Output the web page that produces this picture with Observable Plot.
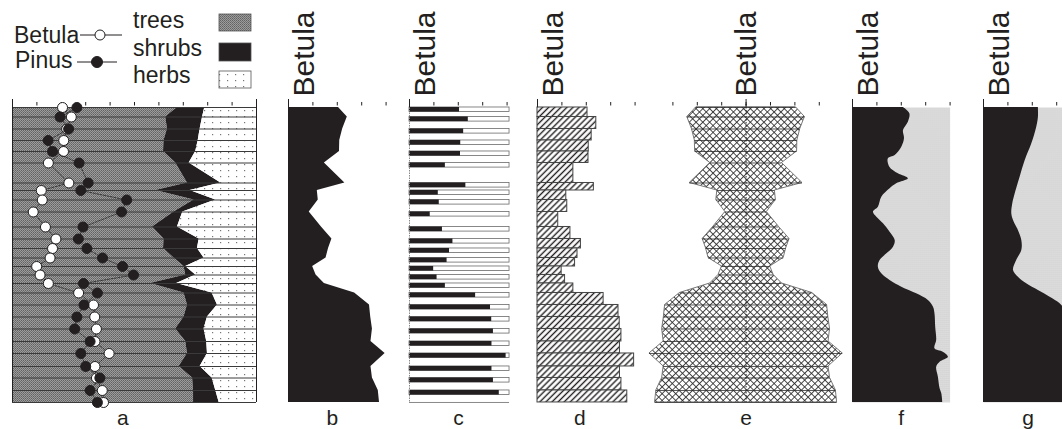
<!DOCTYPE html>
<html><head><meta charset="utf-8">
<script src="https://cdn.jsdelivr.net/npm/d3@7"></script>
<script src="https://cdn.jsdelivr.net/npm/@observablehq/plot@0.6"></script>
<style>
html,body{margin:0;padding:0;background:#fff;}
#chart{position:relative;width:1062px;height:429px;overflow:hidden;background:#fff;}
#chart svg{position:absolute;top:0;}
</style></head><body><div id="chart"></div>
<script>
// ---- data (sample depth in cm from top of core, pollen percentages) ----
const depth  = [0, 9.5, 21.5, 33, 44, 55.5, 75.5, 83, 92.5, 104.5, 119.5, 131.5, 141, 150.5, 159, 167.5, 176, 185.5, 197.5, 209.5, 221.5, 234, 246, 259, 270.5, 283, 295];
const betula = [20.5, 24.1, 22.2, 21.0, 20.9, 14.7, 23.1, 11.8, 12.2, 8.5, 13.5, 17.8, 16.4, 15.4, 9.9, 11.3, 14.7, 27.1, 33.2, 33.7, 34.4, 33.8, 39.6, 33.8, 34.4, 36.8, 37.3];
const pinus  = [26.4, 19.5, 23.0, 14.6, 16.4, 27.3, 31.0, 28.0, 46.8, 44.7, 28.9, 27.0, 30.5, 36.9, 45.1, 49.6, 29.1, 34.8, 29.3, 26.4, 25.5, 31.8, 28.0, 30.0, 35.8, 31.8, 34.8];
const trees  = [67.6, 62.8, 63.5, 62.1, 61.9, 66.9, 71.7, 58.7, 74.4, 66.2, 57.4, 62.1, 61.9, 66.2, 70.3, 71.0, 56.5, 70.3, 71.7, 70.3, 66.9, 71.0, 71.7, 68.3, 73.8, 74.2, 74.2];
const shrubs = [11.2, 15.1, 13.4, 14.0, 13.2, 5.5, 13.7, 14.1, 8.9, 3.6, 10.2, 14.4, 13.9, 12.3, 0.7, 4.1, 10.8, 11.5, 12.3, 9.6, 11.6, 8.6, 8.2, 8.6, 8.0, 9.1, 10.5];
const herbs  = [21.2, 22.1, 23.1, 23.9, 24.9, 27.6, 14.6, 27.2, 16.7, 30.2, 32.4, 23.5, 24.2, 21.5, 29.0, 24.9, 32.7, 18.2, 16.0, 20.1, 21.5, 20.4, 20.1, 23.1, 18.2, 16.7, 15.3];
// smoothed Betula curves (panels f and g)
const fDepth = [0, 6.3, 14.7, 23, 31.3, 39.7, 48, 51.3, 59.7, 66.3, 71.3, 76.3, 81.3, 89.7, 99.7, 104.7, 111.3, 116.3, 124.7, 133, 139.7, 146.3, 153, 159.7, 166.3, 173, 179.7, 186.3, 193, 199.7, 206.3, 219.7, 233, 241.3, 244.7, 249.7, 254.7, 259.7, 269.7, 281.3, 286.3, 295];
const fValue = [20.9, 23.5, 22.9, 20.9, 21.3, 20.2, 17.5, 14.7, 15.3, 18.8, 22.9, 18.1, 15.4, 12.0, 10.6, 8.6, 10.6, 12.7, 15.4, 17.5, 16.8, 14.1, 11.3, 10.6, 12.0, 15.4, 20.2, 26.3, 31.1, 33.2, 33.8, 34.1, 34.5, 33.8, 37.2, 39.3, 35.9, 34.5, 35.2, 35.9, 36.6, 37.0];
const gDepth = [0, 10, 20, 36.3, 53, 69.7, 86.3, 96.3, 106.3, 113, 123, 133, 143, 153, 163, 169.7, 176.3, 183, 189.7, 196.3, 203, 219.7, 246, 273, 295];
const gValue = [22.5, 22.5, 21.8, 19.8, 17.1, 15.0, 13.0, 12.0, 11.6, 12.3, 14.3, 15.7, 15.7, 13.6, 12.3, 14.3, 17.7, 22.5, 27.3, 31.4, 33.5, 34.5, 35.5, 36.0, 36.5];
const panelLetters = ["a", "b", "c", "d", "e", "f", "g"];
const taxonLabel = "Betula";
const legendTaxa = ["Betula", "Pinus"];
const legendGroups = ["trees", "shrubs", "herbs"];
const ticksPct = [0, 10, 20, 30, 40];
const ticksFull = [0, 10, 20, 30, 40, 50, 60, 70, 80, 90, 100];
const ticksMirror = [-30, -20, -10, 0, 10, 20, 30];

// ---- derived tables ----
const rows = depth.map((d, i) => ({depth: d, betula: betula[i], pinus: pinus[i], trees: trees[i], shrubs: shrubs[i], herbs: herbs[i]}));
const bars = rows.slice(0, -1).map((r, i) => ({...r, next: depth[i + 1]}));
const fRows = fDepth.map((d, i) => ({depth: d, v: fValue[i]}));
const gRows = gDepth.map((d, i) => ({depth: d, v: gValue[i]}));

// ---- style ----
const INK = "#231f20";
const FONT = "'Liberation Sans', Arial, Helvetica, sans-serif";
const PX = 2.44, TOP = 107, BOT = 402, H = 429, DMAX = 295;
const chart = document.getElementById("chart");

// patterns
const defs = d3.select("body").append("svg").attr("width", 0).attr("height", 0)
  .style("position", "absolute").style("left", "0").style("top", "0").append("defs");
function pattern(id, w, h, rot) {
  const p = defs.append("pattern").attr("id", id).attr("patternUnits", "userSpaceOnUse").attr("width", w).attr("height", h);
  if (rot) p.attr("patternTransform", `rotate(${rot})`);
  return p;
}
let p = pattern("pTrees", 2, 2);
p.append("rect").attr("width", 2).attr("height", 2).attr("fill", "#9c9c9c");
p.append("rect").attr("width", 1).attr("height", 1).attr("fill", "#626262");
p.append("rect").attr("x", 1).attr("y", 1).attr("width", 1).attr("height", 1).attr("fill", "#727272");
p = pattern("pHerbs", 8, 6);
p.append("rect").attr("width", 8).attr("height", 6).attr("fill", "#fff");
p.append("rect").attr("x", 3).attr("y", 2).attr("width", 1.2).attr("height", 1.2).attr("fill", "#777");
p = pattern("pHatch", 4.3, 4.3, 45);
p.append("rect").attr("width", 4.3).attr("height", 4.3).attr("fill", "#fff");
p.append("line").attr("x1", 2.15).attr("x2", 2.15).attr("y1", 0).attr("y2", 4.3).attr("stroke", INK).attr("stroke-width", 1.4);
p = pattern("pCross", 4.8, 4.8, 45);
p.append("rect").attr("width", 4.8).attr("height", 4.8).attr("fill", "#fff");
p.append("line").attr("x1", 2.4).attr("x2", 2.4).attr("y1", 0).attr("y2", 4.8).attr("stroke", "#2c2c2c").attr("stroke-width", 0.85);
p.append("line").attr("y1", 2.4).attr("y2", 2.4).attr("x1", 0).attr("x2", 4.8).attr("stroke", "#2c2c2c").attr("stroke-width", 0.85);
p = pattern("pDots", 2, 2);
p.append("rect").attr("width", 2).attr("height", 2).attr("fill", "#fff");
p.append("rect").attr("width", 1).attr("height", 1).attr("fill", "#666");

function tickMarks(vals, ends) {
  return [
    Plot.ruleX(vals, {y1: -5, y2: -1.5, stroke: INK, strokeWidth: 1}),
    Plot.ruleX(ends, {y1: -8, y2: 0, stroke: INK, strokeWidth: 1})
  ];
}
function labels(letter, letterX, betulaX) {
  const m = [Plot.text([letter], {x: letterX, y: 311, text: d => d, fontSize: 21, fill: INK})];
  if (betulaX !== null) m.push(Plot.text([taxonLabel], {x: betulaX, y: -11, text: d => d, rotate: -90, textAnchor: "start", fontSize: 30, fill: INK}));
  return m;
}
function panel(x0, xdom, marks, pad = 30) {
  const w = (xdom[1] - xdom[0]) * PX;
  const svg = Plot.plot({
    width: w + 2 * pad, height: H,
    marginLeft: pad, marginRight: pad, marginTop: TOP, marginBottom: H - BOT,
    x: {domain: xdom, axis: null},
    y: {domain: [0, DMAX], reverse: true, axis: null},
    style: {background: "transparent", overflow: "visible", fontFamily: FONT, color: INK},
    marks
  });
  svg.style.left = (x0 - pad) + "px";
  svg.style.top = "0px";
  chart.append(svg);
}
const LBL = 16 / PX; // offset of the rotated taxon label

// ---- panel a ----
panel(11.7, [0, 100], [
  Plot.areaX(rows, {y: "depth", x1: 0, x2: "trees", fill: "url(#pTrees)"}),
  Plot.areaX(rows, {y: "depth", x1: "trees", x2: d => d.trees + d.shrubs, fill: INK}),
  Plot.areaX(rows, {y: "depth", x1: d => d.trees + d.shrubs, x2: d => d.trees + d.shrubs + d.herbs, fill: "url(#pHerbs)"}),
  Plot.ruleY(rows, {y: "depth", x1: 0, x2: 100, stroke: "#3a3a3a", strokeWidth: 1}),
  Plot.ruleX([0, 100], {y1: 0, y2: DMAX, stroke: INK, strokeWidth: 1}),
  ...tickMarks(ticksFull, [0, 100]),
  Plot.line(rows, {x: "betula", y: "depth", stroke: INK, strokeWidth: 0.8, strokeDasharray: "2,1.5"}),
  Plot.dot(rows, {x: "betula", y: "depth", r: 5, fill: "white", stroke: INK, strokeWidth: 1}),
  Plot.line(rows, {x: "pinus", y: "depth", stroke: INK, strokeWidth: 0.8, strokeDasharray: "2,1.5"}),
  Plot.dot(rows, {x: "pinus", y: "depth", r: 5, fill: INK, stroke: INK, strokeWidth: 1}),
  ...labels(panelLetters[0], 45.2, null)
], 11);

// ---- panel b ----
panel(288.3, [0, 40], [
  Plot.areaX(rows, {y: "depth", x1: 0, x2: "betula", fill: INK}),
  ...tickMarks(ticksPct, [0]),
  ...labels(panelLetters[1], 18, LBL)
]);

// ---- panel c ----
panel(409, [0, 40], [
  Plot.rectX(bars, {y1: "depth", y2: d => d.depth + 4.6, x1: 0, x2: 41, fill: "white", stroke: "#6a6a6a", strokeWidth: 0.8}),
  Plot.rectX(bars, {y1: "depth", y2: d => d.depth + 4.6, x1: 0, x2: "betula", fill: INK}),
  Plot.ruleY([DMAX], {x1: 0, x2: 41, stroke: "#888", strokeWidth: 1}),
  Plot.ruleX([0], {y1: -2, y2: DMAX, stroke: "#888", strokeWidth: 1, strokeDasharray: "1.5,1"}),
  ...tickMarks(ticksPct, [0]),
  ...labels(panelLetters[2], 20.1, LBL)
]);

// ---- panel d ----
panel(536.7, [0, 40], [
  Plot.rectX(bars, {y1: "depth", y2: "next", x1: 0, x2: "betula", fill: "url(#pHatch)", stroke: "#444", strokeWidth: 1}),
  ...tickMarks(ticksPct, [0]),
  ...labels(panelLetters[3], 17.3, LBL)
]);

// ---- panel e ----
panel(648.4, [-40, 40], [
  Plot.areaX(rows, {y: "depth", x1: d => -d.betula, x2: "betula", fill: "url(#pCross)", stroke: "#777", strokeWidth: 1}),
  Plot.ruleY(rows, {y: "depth", x1: d => -d.betula, x2: "betula", stroke: "#2a2a2a", strokeWidth: 0.8}),
  Plot.ruleX([0], {y1: -3, y2: DMAX, stroke: INK, strokeWidth: 1, strokeDasharray: "1.5,1.5"}),
  ...tickMarks(ticksMirror, [0]),
  ...labels(panelLetters[4], 0, 0)
]);

// ---- panel f ----
panel(852.3, [0, 40], [
  Plot.frame({fill: "url(#pDots)", stroke: "none"}),
  Plot.areaX(fRows, {y: "depth", x1: 0, x2: "v", fill: INK, curve: "catmull-rom"}),
  ...tickMarks(ticksPct, [0]),
  ...labels(panelLetters[5], 20, LBL)
]);

// ---- panel g ----
panel(983.3, [0, 40], [
  Plot.frame({fill: "url(#pDots)", stroke: "none"}),
  Plot.areaX(gRows, {y: "depth", x1: 0, x2: "v", fill: INK, curve: "catmull-rom"}),
  ...tickMarks(ticksPct, [0]),
  ...labels(panelLetters[6], 18.3, LBL)
]);

// ---- legend ----
const leg = d3.create("svg").attr("width", 262).attr("height", 96).style("left", "0px")
  .attr("font-family", FONT).attr("fill", INK);
leg.append("text").attr("x", 14).attr("y", 43).attr("font-size", 23).text(legendTaxa[0]);
leg.append("line").attr("x1", 80).attr("x2", 122).attr("y1", 35).attr("y2", 35).attr("stroke", INK).attr("stroke-width", 1);
leg.append("circle").attr("cx", 100).attr("cy", 35).attr("r", 5).attr("fill", "#fff").attr("stroke", INK);
leg.append("text").attr("x", 15).attr("y", 68).attr("font-size", 23).text(legendTaxa[1]);
leg.append("line").attr("x1", 77).attr("x2", 117).attr("y1", 62).attr("y2", 62).attr("stroke", INK).attr("stroke-width", 1);
leg.append("circle").attr("cx", 97).attr("cy", 62).attr("r", 5.5).attr("fill", INK).attr("stroke", INK);
const gy = [28, 56, 83], sw = [[14, 17], [43, 18], [71, 17]], sf = ["url(#pTrees)", INK, "url(#pHerbs)"];
legendGroups.forEach((g, i) => {
  leg.append("text").attr("x", 133).attr("y", gy[i]).attr("font-size", 23).text(g);
  leg.append("rect").attr("x", 219).attr("y", sw[i][0]).attr("width", 32).attr("height", sw[i][1])
    .attr("fill", sf[i]).attr("stroke", "#555").attr("stroke-width", 0.8);
});
chart.append(leg.node());
</script></body></html>
